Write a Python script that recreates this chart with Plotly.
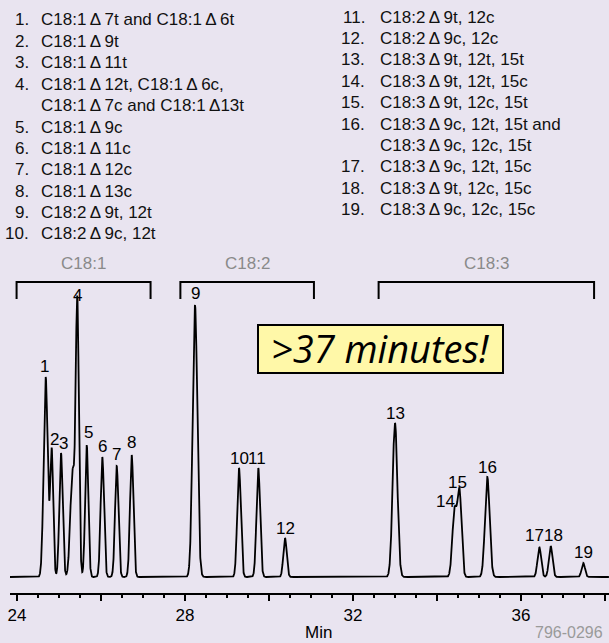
import numpy as np
import plotly.graph_objects as go

# ---------------- data ----------------
peak_ids = ["1", "2", "3", "4", "5", "6", "7", "8", "9", "10",
            "11", "12", "13", "14", "15", "16", "17", "18", "19"]
peak_times = [24.683, 24.826, 25.048, 25.436, 25.660, 26.031, 26.374, 26.731,
              28.238, 29.286, 29.745, 30.381, 33.000, 34.417, 34.536, 35.198,
              36.436, 36.707, 37.483]
peak_heights = [200, 127, 124, 272, 132, 120, 111, 122,
                272, 109, 109, 39, 154, 66, 84, 100,
                30, 31, 14]
peak_widths = [0.048, 0.036, 0.040, 0.038, 0.038, 0.040, 0.040, 0.040,
               0.055, 0.043, 0.043, 0.040, 0.057, 0.052, 0.048, 0.055,
               0.043, 0.043, 0.040]
# unresolved shoulder on the front of peak 4
shoulder_times = [25.321]
shoulder_heights = [105]
shoulder_widths = [0.052]

x_tick_vals = [24, 26, 28, 30, 32, 34, 36, 38]
x_tick_text = ["24", "", "28", "", "32", "", "36", ""]

groups = ["C18:1", "C18:2", "C18:3"]
group_start = [23.99, 27.89, 32.61]
group_end = [27.18, 31.07, 37.74]

D = "\u2009\u0394\u2009"
legend_left = [("1.", f"C18:1{D}7t and C18:1{D}6t"),
               ("2.", f"C18:1{D}9t"),
               ("3.", f"C18:1{D}11t"),
               ("4.", f"C18:1{D}12t, C18:1{D}6c,"),
               ("", f"C18:1{D}7c and C18:1\u2009\u039413t"),
               ("5.", f"C18:1{D}9c"),
               ("6.", f"C18:1{D}11c"),
               ("7.", f"C18:1{D}12c"),
               ("8.", f"C18:1{D}13c"),
               ("9.", f"C18:2{D}9t, 12t"),
               ("10.", f"C18:2{D}9c, 12t")]
legend_right = [("11.", f"C18:2{D}9t, 12c"),
                ("12.", f"C18:2{D}9c, 12c"),
                ("13.", f"C18:3{D}9t, 12t, 15t"),
                ("14.", f"C18:3{D}9t, 12t, 15c"),
                ("15.", f"C18:3{D}9t, 12c, 15t"),
                ("16.", f"C18:3{D}9c, 12t, 15t and"),
                ("", f"C18:3{D}9c, 12c, 15t"),
                ("17.", f"C18:3{D}9c, 12t, 15c"),
                ("18.", f"C18:3{D}9t, 12c, 15c"),
                ("19.", f"C18:3{D}9c, 12c, 15c")]

# ---------------- style ----------------
W, H = 609, 643
ML, MR, MT, MB = 10, 0, 0, 50
PW, PH = W - ML - MR, H - MT - MB
BG = "#E9E4F0"
FONT = "Liberation Sans, Arial, Helvetica, sans-serif"
# label offsets from peak tops (pixels)
label_dx = [-1, 3, 2.5, 0, 2, 0, 0, 0, 0, 0, -1, 0, 0, -9.5, -2.5, 0, -5, 2.5, 0]
label_dy = [10, 10, 9, 9, 12, 10, 11, 12, 11, 9, 9, 9, 9, 9, 9.5, 9, 10.5, 9.5, 10]


def px(x):
    return (x - ML) / PW


def py(y):
    return (MT + PH - y) / PH


# ---------------- trace ----------------
t = np.arange(23.8333, 38.0952, 0.002)
sig = np.zeros_like(t)
for c, h, s in zip(peak_times + shoulder_times,
                   peak_heights + shoulder_heights,
                   peak_widths + shoulder_widths):
    sig += h * np.exp(-0.5 * ((t - c) / s) ** 2)

fig = go.Figure()
fig.add_trace(go.Scatter(x=t, y=sig, mode="lines",
                         line=dict(color="black", width=1.8),
                         hoverinfo="skip", showlegend=False))

ann = []
# peak labels
for lab, c, h, dx, dy in zip(peak_ids, peak_times, peak_heights, label_dx, label_dy):
    ann.append(dict(x=c, y=h, xref="x", yref="y", text=lab, showarrow=False,
                    xshift=dx, yshift=dy + 1, xanchor="center", yanchor="middle",
                    font=dict(family="Liberation Sans Narrow, " + FONT, size=17, color="black")))

# legend columns
for i, (n, txt) in enumerate(legend_left):
    y = 20 + i * 21.4
    if n:
        ann.append(dict(x=px(30.5), y=py(y), xref="paper", yref="paper", text=n,
                        showarrow=False, xanchor="right", yanchor="middle",
                        font=dict(family=FONT, size=17, color="#111")))
    ann.append(dict(x=px(39), y=py(y), xref="paper", yref="paper", text=txt,
                    showarrow=False, xanchor="left", yanchor="middle",
                    font=dict(family=FONT, size=17, color="#111")))
for i, (n, txt) in enumerate(legend_right):
    y = 17 + i * 21.4
    if n:
        ann.append(dict(x=px(367.5), y=py(y), xref="paper", yref="paper", text=n,
                        showarrow=False, xanchor="right", yanchor="middle",
                        font=dict(family=FONT, size=17, color="#111")))
    ann.append(dict(x=px(378), y=py(y), xref="paper", yref="paper", text=txt,
                    showarrow=False, xanchor="left", yanchor="middle",
                    font=dict(family=FONT, size=17, color="#111")))

shapes = []
# group brackets
for g, a, b in zip(groups, group_start, group_end):
    shapes.append(dict(type="path", xref="x", yref="paper",
                       path=f"M {a},{py(299)} L {a},{py(282)} L {b},{py(282)} L {b},{py(299)}",
                       line=dict(color="black", width=2)))
    ann.append(dict(x=(a + b) / 2, y=py(263), xref="x", yref="paper", text=g,
                    showarrow=False, xanchor="center", yanchor="middle",
                    font=dict(family=FONT, size=17, color="#8a8a8a")))

# highlight box
shapes.append(dict(type="rect", xref="paper", yref="paper",
                   x0=px(258), x1=px(503), y0=py(373), y1=py(325),
                   fillcolor="#FFF8A8", line=dict(color="black", width=2)))
ann.append(dict(x=px(380.5), y=py(348), xref="paper", yref="paper",
                text=">37 minutes!", showarrow=False, xanchor="center", yanchor="middle",
                font=dict(family="Open Sans, Lato, sans-serif", size=38, color="black",
                          style="italic")))

# axis title and figure code
ann.append(dict(x=px(318), y=py(632), xref="paper", yref="paper", text="Min",
                showarrow=False, xanchor="center", yanchor="middle",
                font=dict(family=FONT, size=17, color="black")))
ann.append(dict(x=px(533), y=py(632), xref="paper", yref="paper", text="796-0296",
                showarrow=False, xanchor="left", yanchor="middle",
                font=dict(family=FONT, size=16, color="#9a9a9a")))

fig.update_layout(
    width=W, height=H,
    margin=dict(l=ML, r=MR, t=MT, b=MB, pad=0),
    paper_bgcolor=BG, plot_bgcolor=BG,
    showlegend=False,
    annotations=ann, shapes=shapes,
    xaxis=dict(range=[23.8333, 38.0952], tickmode="array",
               tickvals=x_tick_vals, ticktext=x_tick_text,
               ticks="outside", ticklen=6, tickwidth=1.5, tickcolor="black",
               showline=True, linewidth=2, linecolor="black",
               showgrid=False, zeroline=False, fixedrange=True,
               tickfont=dict(family=FONT, size=17, color="black"),
               minor=dict(tickmode="linear", tick0=24, dtick=0.5, ticks="outside",
                          ticklen=3, tickwidth=1.5, tickcolor="black", showgrid=False)),
    yaxis=dict(range=[-16, 577], visible=False, fixedrange=True),
)

fig.write_html("out.html",
               config={"displayModeBar": False, "staticPlot": True},
               post_script="document.body.style.margin='0';document.body.style.overflow='hidden';document.body.style.background='" + BG + "';")
